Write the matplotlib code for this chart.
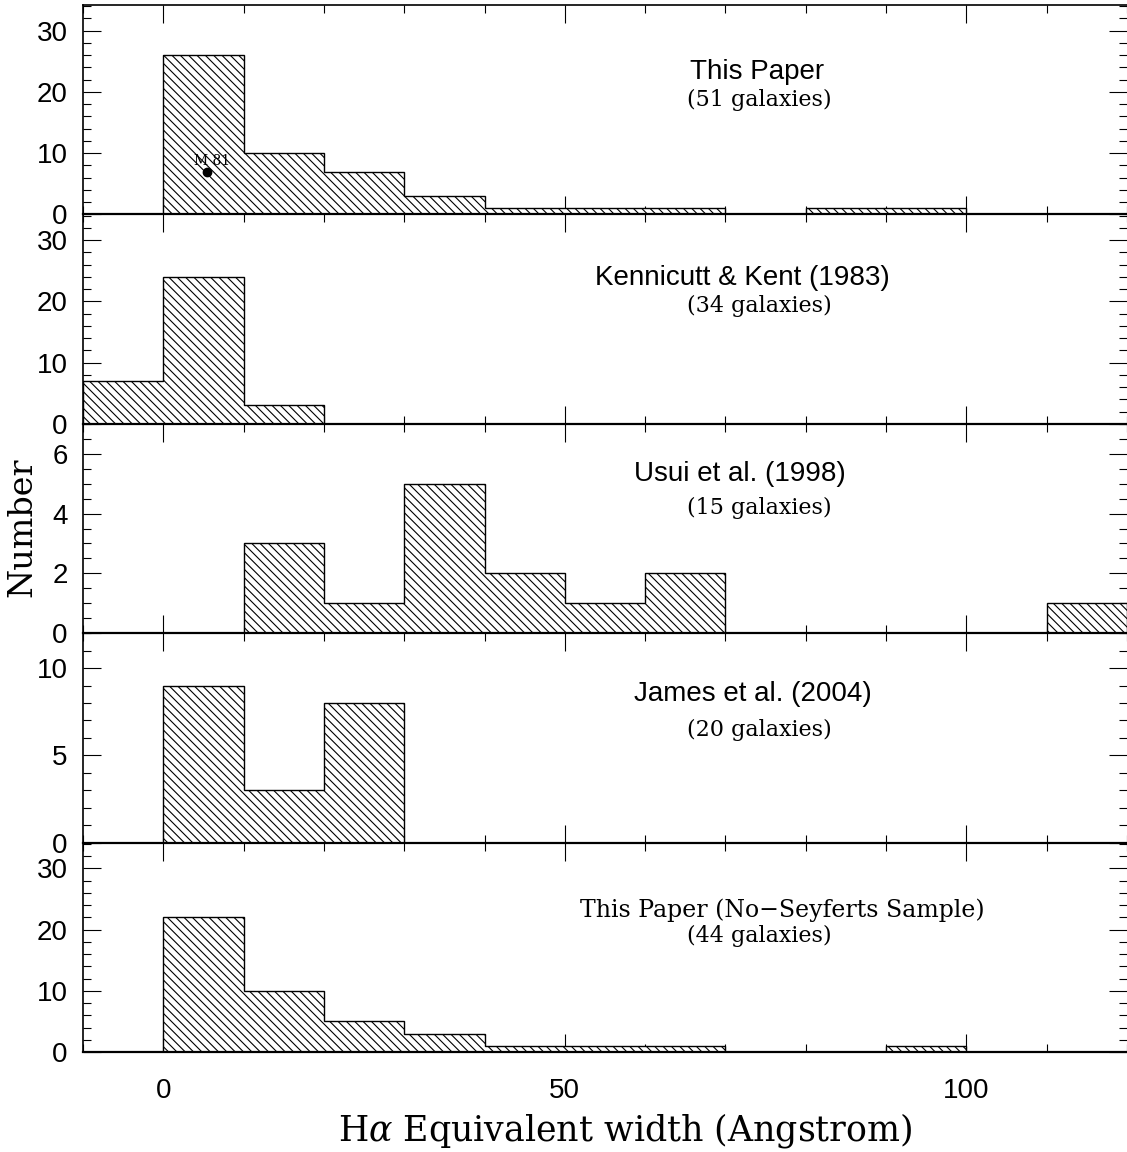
import numpy as np
import matplotlib
matplotlib.use("Agg")
import matplotlib.pyplot as plt
from matplotlib.ticker import MultipleLocator

# ---- data ----
bin_edges = [-10, 0, 10, 20, 30, 40, 50, 60, 70, 80, 90, 100, 110, 120]
this_paper = [0, 26, 10, 7, 3, 1, 1, 1, 0, 1, 1, 0, 0]
kennicutt_kent = [7, 24, 3, 0, 0, 0, 0, 0, 0, 0, 0, 0, 0]
usui = [0, 0, 3, 1, 5, 2, 1, 2, 0, 0, 0, 0, 1]
james = [0, 9, 3, 8, 0, 0, 0, 0, 0, 0, 0, 0, 0]
no_seyferts = [0, 22, 10, 5, 3, 1, 1, 1, 0, 0, 1, 0, 0]

titles = ["This Paper", "Kennicutt & Kent (1983)", "Usui et al. (1998)",
          "James et al. (2004)", "This Paper (No\u2212Seyferts Sample)"]
subtitles = ["(51 galaxies)", "(34 galaxies)", "(15 galaxies)",
             "(20 galaxies)", "(44 galaxies)"]
m81_x, m81_y = 5.5, 7.0
m81_label = "M 81"

series = [this_paper, kennicutt_kent, usui, james, no_seyferts]
ylims = [34.2, 34.2, 7.0, 12.0, 34.2]
ymajor = [10, 10, 2, 5, 10]
yminor = [2, 2, 0.5, 1, 2]
title_pos = [(0.646, 0.68), (0.632, 0.695), (0.629, 0.76), (0.642, 0.708), (0.670, 0.675)]
sub_pos = [(0.648, 0.548), (0.648, 0.563), (0.648, 0.60), (0.648, 0.536), (0.648, 0.555)]

plt.rcParams['hatch.linewidth'] = 0.8
plt.rcParams['mathtext.fontset'] = 'dejavuserif'
sans = ['Liberation Sans', 'DejaVu Sans']
serif = ['DejaVu Serif']

fig = plt.figure(figsize=(11.27, 11.52), dpi=100)
axes = fig.subplots(5, 1, sharex=True,
                    gridspec_kw=dict(hspace=0, left=83/1127, right=1.0,
                                     top=1-5/1152, bottom=1-1052/1152))

lefts = np.array(bin_edges[:-1])
widths = np.diff(bin_edges)
for i, ax in enumerate(axes):
    vals = series[i]
    ax.bar(lefts, vals, width=widths, align='edge', facecolor='white',
           edgecolor='black', linewidth=0, hatch='\\\\\\\\', zorder=2)
    ax.stairs(vals, bin_edges, baseline=0, color='black', linewidth=1.0, zorder=3)
    ax.set_xlim(-10, 120)
    ax.set_ylim(0, ylims[i])
    ax.xaxis.set_major_locator(MultipleLocator(50))
    ax.xaxis.set_minor_locator(MultipleLocator(10))
    ax.yaxis.set_major_locator(MultipleLocator(ymajor[i]))
    ax.yaxis.set_minor_locator(MultipleLocator(yminor[i]))
    ax.tick_params(which='both', direction='in', top=True, right=True, width=0.8)
    ax.tick_params(which='major', length=13)
    ax.tick_params(which='minor', length=6)
    ax.tick_params(axis='y', which='major', pad=11, labelsize=20)
    ax.tick_params(axis='x', which='major', pad=19, labelsize=20)
    for lab in ax.get_yticklabels() + ax.get_xticklabels():
        lab.set_family(sans)
    ax.spines['right'].set_visible(False)
    for s in ['top', 'left']:
        ax.spines[s].set_linewidth(1.2)
    ax.spines['bottom'].set_linewidth(1.6)
    ax.set_zorder(5 - i)
    if i == 4:
        ax.text(*title_pos[i], titles[i], transform=ax.transAxes, ha='center',
                va='center', fontsize=17, family=serif)
    else:
        ax.text(*title_pos[i], titles[i], transform=ax.transAxes, ha='center',
                va='center', fontsize=20, family=sans)
    ax.text(*sub_pos[i], subtitles[i], transform=ax.transAxes, ha='center',
            va='center', fontsize=16, family=serif)
    if i < 4:
        ax.tick_params(axis='x', labelbottom=False)

axes[0].plot([m81_x], [m81_y], 'o', color='black', markersize=6, zorder=6)
axes[0].text(m81_x + 0.6, m81_y + 1.7, m81_label, ha='center', va='center',
             fontsize=10, family=serif, zorder=6)

fig.text(22/1127, 1-527/1152, 'Number', rotation=90, ha='center', va='center',
         fontsize=24, family=serif)
fig.text(625/1127, 1-1130/1152, r'H$\alpha$ Equivalent width (Angstrom)',
         ha='center', va='center', fontsize=25, family=serif)

fig.savefig('out.png', dpi=100)
